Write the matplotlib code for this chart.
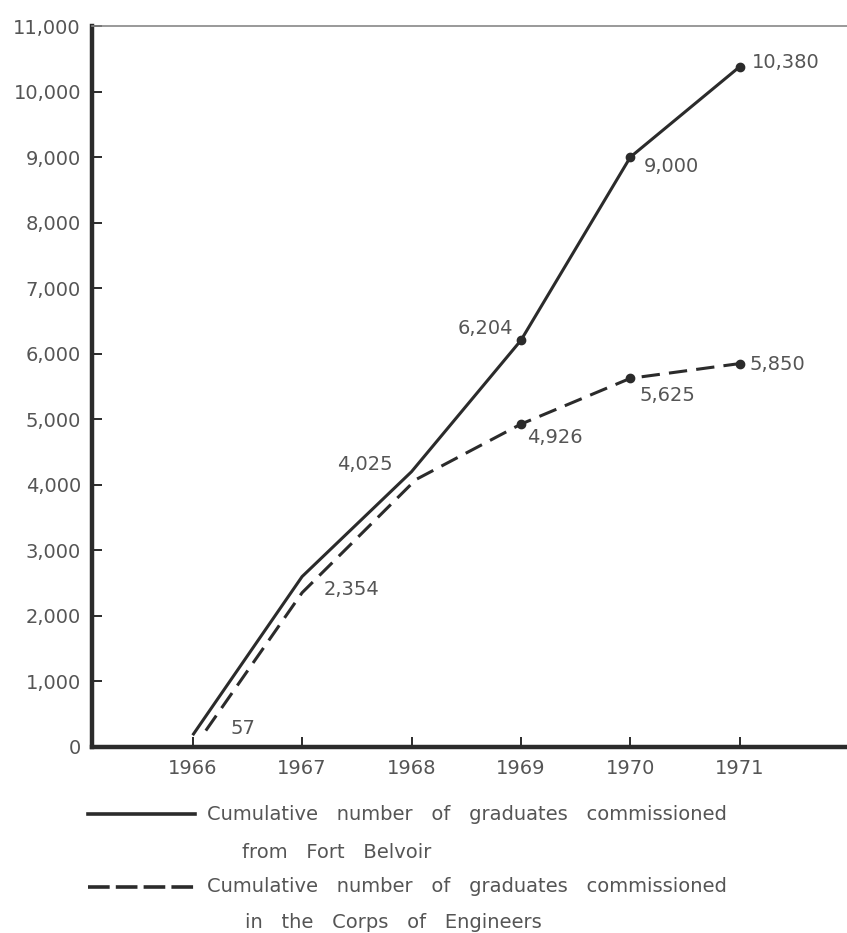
"""
Cumulative graduates commissioned, 1966-1971.
Solid: from Fort Belvoir; dashed: in the Corps of Engineers.
"""
import matplotlib
matplotlib.use('Agg')
import matplotlib.pyplot as plt
from matplotlib.lines import Line2D
from matplotlib.ticker import FuncFormatter

# data
years = [1966, 1967, 1968, 1969, 1970, 1971]
belvoir = [180, 2600, 4200, 6204, 9000, 10380]
corps_years = [1966.12, 1967, 1968.04, 1969, 1970, 1971]
corps = [250, 2354, 4080, 4926, 5625, 5850]

# value labels by point index
belvoir_labels = {2: '4,025', 3: '6,204', 4: '9,000', 5: '10,380'}
corps_labels = {0: '57', 1: '2,354', 3: '4,926', 4: '5,625', 5: '5,850'}

y_ticks = list(range(0, 11001, 1000))
legend_lines = [
    'Cumulative   number   of   graduates   commissioned',
    'from   Fort   Belvoir',
    'Cumulative   number   of   graduates   commissioned',
    'in   the   Corps   of   Engineers',
]

INK = '#2b2b2b'
GRAY = '#555555'

W, H = 847, 933
fig = plt.figure(figsize=(W / 100, H / 100), dpi=100)
fig.patch.set_facecolor('white')

ax = fig.add_axes([92 / W, 1 - 747 / H, (W - 92) / W, (747 - 26) / H])
ax.set_xlim(1965.08, 1971.98)
ax.set_ylim(0, 11000)

# lines
ax.plot(years, belvoir, color=INK, linewidth=2.2, solid_capstyle='butt',
        marker='o', markersize=6, markevery=[3, 4, 5], zorder=3)
ax.plot(corps_years, corps, color=INK, linewidth=2.2, dashes=(6, 3),
        marker='o', markersize=6, markevery=[3, 4, 5], zorder=3)

# annotations (offsets in pixels from the point)
offsets_b = {2: (-19, 7, 'right'), 3: (-8, 12, 'right'), 4: (13, -9, 'left'),
             5: (12, 4, 'left')}
offsets_c = {0: (25, 2, 'left'), 1: (22, 3, 'left'), 3: (6, -13, 'left'),
             4: (9, -17, 'left'), 5: (10, -1, 'left')}
for i, (dx, dy, ha) in offsets_b.items():
    ax.annotate(belvoir_labels[i], (years[i], belvoir[i]), xytext=(dx, dy),
                textcoords='offset pixels', ha=ha, va='center',
                fontsize=14, color=GRAY)
for i, (dx, dy, ha) in offsets_c.items():
    ax.annotate(corps_labels[i], (corps_years[i], corps[i]), xytext=(dx, dy),
                textcoords='offset pixels', ha=ha, va='center',
                fontsize=14, color=GRAY)

# axes styling
ax.spines['right'].set_visible(False)
ax.spines['left'].set_linewidth(3.2)
ax.spines['bottom'].set_linewidth(3.2)
ax.spines['left'].set_color(INK)
ax.spines['bottom'].set_color(INK)
ax.spines['top'].set_linewidth(1.2)
ax.spines['top'].set_color('#888888')

ax.set_xticks(years)
ax.set_xticklabels([str(y) for y in years])
ax.set_yticks(y_ticks)
ax.yaxis.set_major_formatter(FuncFormatter(lambda v, p: f'{int(v):,}'))
ax.tick_params(axis='both', direction='in', length=7, width=1.4, color=INK,
               labelsize=14, labelcolor=GRAY)
ax.tick_params(axis='y', pad=8)
ax.tick_params(axis='x', pad=9)

# hand-drawn legend below the plot
def px(x, y):
    return x / W, 1 - y / H

for y, ls in [(814, '-'), (887, '--')]:
    x0, yy = px(88, y)
    x1, _ = px(195, y)
    ln = Line2D([x0, x1], [yy, yy], transform=fig.transFigure, color=INK,
                linewidth=2.6)
    if ls == '--':
        ln.set_dashes((6, 1.7))
    fig.add_artist(ln)

for text, (x, y) in zip(legend_lines, [(207, 814), (242, 853), (207, 887), (245, 923)]):
    fx, fy = px(x, y)
    fig.text(fx, fy, text, ha='left', va='center', fontsize=14, color=GRAY)

fig.savefig('out.png', dpi=100, facecolor='white')
